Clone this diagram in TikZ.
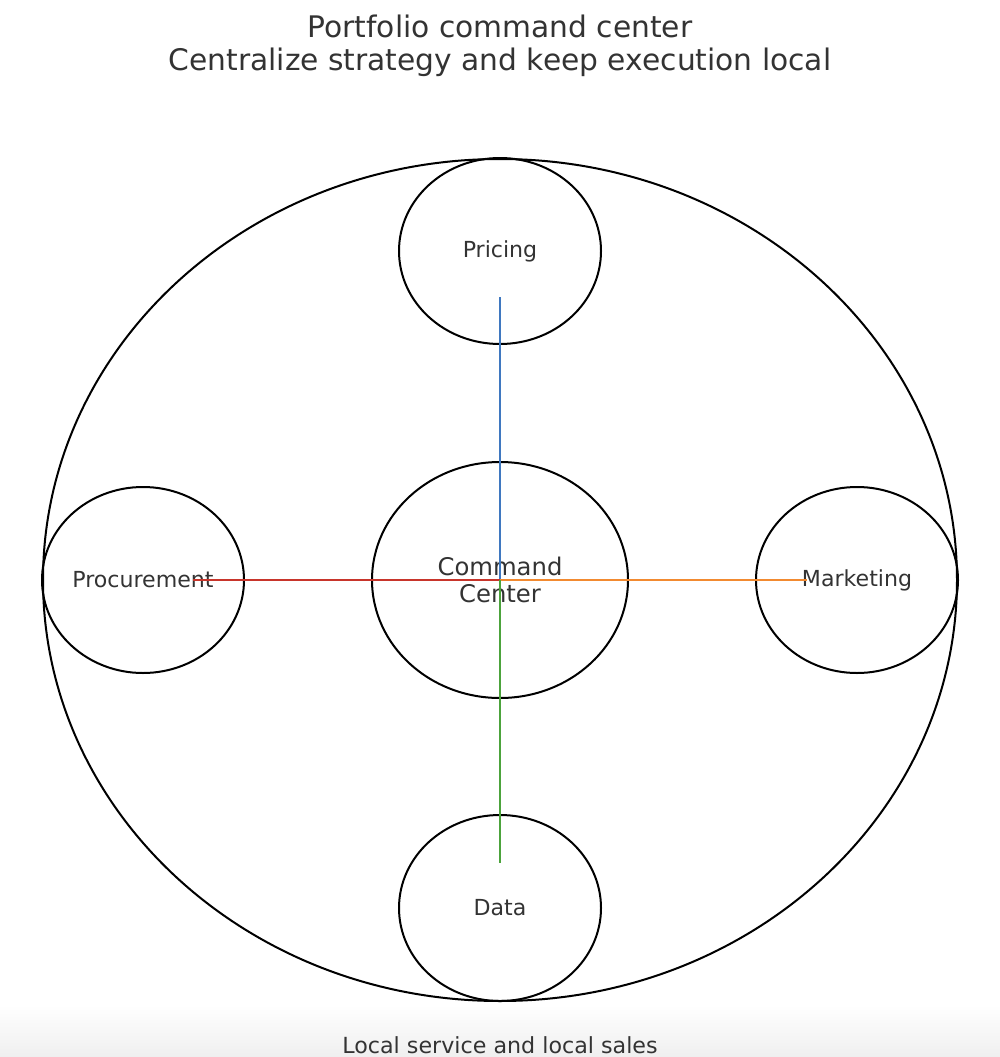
\documentclass[tikz,border=0pt]{standalone}
\usepackage{fontspec}
\setmainfont{DejaVu Sans}
\usepackage{tikz}
\usetikzlibrary{shapes.geometric}
\definecolor{hubtext}{HTML}{333333}
\definecolor{hubblue}{HTML}{3F78C0}
\definecolor{hubred}{HTML}{C8352B}
\definecolor{huborange}{HTML}{F28A30}
\definecolor{hubgreen}{HTML}{4CA33C}
\definecolor{hubshade}{HTML}{EFEFEF}

\begin{document}
\begin{tikzpicture}[
  x=1pt, y=-1pt,
  every node/.style={text=hubtext, inner sep=0pt},
  satellite/.style={ellipse, draw=black, line width=2pt,
                    minimum width=202pt, minimum height=186pt,
                    font=\fontsize{22.1}{26}\selectfont},
  hub/.style={ellipse, draw=black, line width=2pt,
              minimum width=256pt, minimum height=236pt, align=center,
              font=\fontsize{24.3}{27}\selectfont},
  spoke/.style={line width=2pt}
]
\useasboundingbox (0,0) rectangle (1000,1057);
\shade[top color=white, bottom color=hubshade, draw=none] (0,1005) rectangle (1000,1057);
\node[font=\fontsize{29.7}{33}\selectfont, align=center] (title) at (500,46)
  {Portfolio command center\\Centralize strategy and keep execution local};
\node[ellipse, draw=black, line width=2pt, minimum width=914pt,
      minimum height=842pt] (portfolio) at (500,580) {};
\node[hub] (command) at (500,580) {Command\\Center};
\node[satellite] (pricing) at (500,251) {Pricing};
\node[satellite] (procurement) at (143,580) {Procurement};
\node[satellite] (marketing) at (857,580) {Marketing};
\node[satellite] (data) at (500,908) {Data};
\node[font=\fontsize{22.2}{26}\selectfont] (local) at (500,1045) {Local service and local sales};
\path (pricing.center) ++(0,46) coordinate (pricingend);
\path (procurement.center) ++(50,0) coordinate (procurementend);
\path (marketing.center) ++(-50,0) coordinate (marketingend);
\path (data.center) ++(0,-45) coordinate (dataend);
\draw[spoke, draw=hubblue] (command.center) -- (pricingend);
\draw[spoke, draw=hubred] (command.center) -- (procurementend);
\draw[spoke, draw=huborange] (command.center) -- (marketingend);
\draw[spoke, draw=hubgreen] (command.center) -- (dataend);
\end{tikzpicture}
\end{document}
